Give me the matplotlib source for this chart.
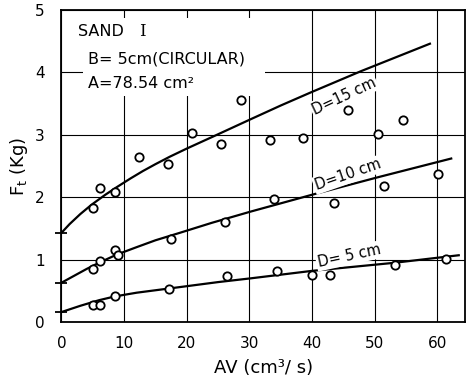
import matplotlib
matplotlib.use("Agg")
import matplotlib.pyplot as plt
from matplotlib.patches import Rectangle

# measured points (AV in cm^3/s, Ft in Kg)
av_15 = [5.0, 6.1, 8.6, 12.4, 17.0, 20.9, 25.4, 28.7, 33.3, 38.5, 45.7, 50.5, 54.5]
ft_15 = [1.82, 2.14, 2.08, 2.64, 2.54, 3.03, 2.85, 3.56, 2.91, 2.95, 3.40, 3.02, 3.23]

av_10 = [5.1, 6.2, 8.6, 9.0, 17.5, 26.1, 33.9, 43.5, 51.4, 60.1]
ft_10 = [0.85, 0.97, 1.16, 1.07, 1.33, 1.61, 1.97, 1.90, 2.18, 2.38]

av_5 = [5.0, 6.1, 8.5, 17.2, 26.4, 34.4, 40.0, 42.8, 53.2, 61.3]
ft_5 = [0.27, 0.27, 0.41, 0.53, 0.74, 0.81, 0.75, 0.76, 0.92, 1.01]

# fitted curves
curve_x_15 = [0, 1.3, 3, 4.8, 7, 8.8, 11, 13, 15, 17.3, 20, 24.8, 30.2, 35,
              39.8, 47.8, 58.8]
curve_y_15 = [1.43, 1.57, 1.73, 1.88, 2.04, 2.16, 2.30, 2.42, 2.53, 2.65,
              2.78, 3.00, 3.25, 3.47, 3.68, 4.02, 4.46]
curve_x_10 = [0, 2, 4, 6, 8.8, 12, 15, 18.9, 24, 30.2, 40, 50.5, 62.2]
curve_y_10 = [0.63, 0.74, 0.85, 0.95, 1.08, 1.20, 1.31, 1.43, 1.59, 1.77,
              2.04, 2.32, 2.62]
curve_x_5 = [0, 3, 6, 8.5, 12, 18.9, 25, 30.2, 40, 53.2, 63.4]
curve_y_5 = [0.16, 0.26, 0.35, 0.41, 0.47, 0.56, 0.64, 0.70, 0.82, 0.95, 1.07]

fig = plt.figure(figsize=(4.68, 3.82), dpi=100)
ax = fig.add_axes([0.1314, 0.157, 0.8622, 0.8168])

ax.set_xlim(0, 64.4)
ax.set_ylim(0, 5)
ax.set_xticks([0, 10, 20, 30, 40, 50, 60])
ax.set_yticks([0, 1, 2, 3, 4, 5])
ax.tick_params(length=0, labelsize=11)
ax.tick_params(axis="y", pad=12)
ax.tick_params(axis="x", pad=10)
ax.set_axisbelow(True)
ax.grid(True, color="black", linewidth=0.8)
for s in ax.spines.values():
    s.set_linewidth(1.3)

# blank area behind the info block
ax.add_patch(Rectangle((3.4, 3.62), 29.0, 1.25, facecolor="white",
                       edgecolor="none", zorder=1))

for cx, cy in [(curve_x_15, curve_y_15), (curve_x_10, curve_y_10),
               (curve_x_5, curve_y_5)]:
    ax.plot(cx, cy, color="black", linewidth=1.6, zorder=2)
    ax.plot([cx[0]], [cy[0]], marker="_", markersize=9, mew=1.3,
            color="black", clip_on=False, zorder=3)

for x, y in [(av_15, ft_15), (av_10, ft_10), (av_5, ft_5)]:
    ax.plot(x, y, "o", markersize=6, mfc="white", mec="black", mew=1.3,
            zorder=3)

box = dict(facecolor="white", edgecolor="none", pad=1)
ax.text(45.1, 3.62, "D=15 cm", rotation=25, ha="center", va="center",
        fontsize=10.5, bbox=box, zorder=4)
ax.text(45.7, 2.36, "D=10 cm", rotation=19, ha="center", va="center",
        fontsize=10.5, bbox=box, zorder=4)
ax.text(45.9, 1.06, "D= 5 cm", rotation=12, ha="center", va="center",
        fontsize=10.5, bbox=box, zorder=4)

ax.text(2.6, 4.66, "SAND", fontsize=11.5, va="center", zorder=4)
ax.text(12.4, 4.66, "I", fontsize=12, va="center", family="DejaVu Serif",
        zorder=4)
ax.text(4.2, 4.21, "B= 5cm(CIRCULAR)", fontsize=11.5, va="center", zorder=4)
ax.text(4.2, 3.83, "A=78.54 cm²", fontsize=11.5, va="center", zorder=4)

ax.set_xlabel("AV (cm³/ s)", fontsize=13, labelpad=6)
ax.set_ylabel(r"F$_{\rm t}$ (Kg)", fontsize=13, labelpad=4)

fig.savefig("out.png", dpi=100)
